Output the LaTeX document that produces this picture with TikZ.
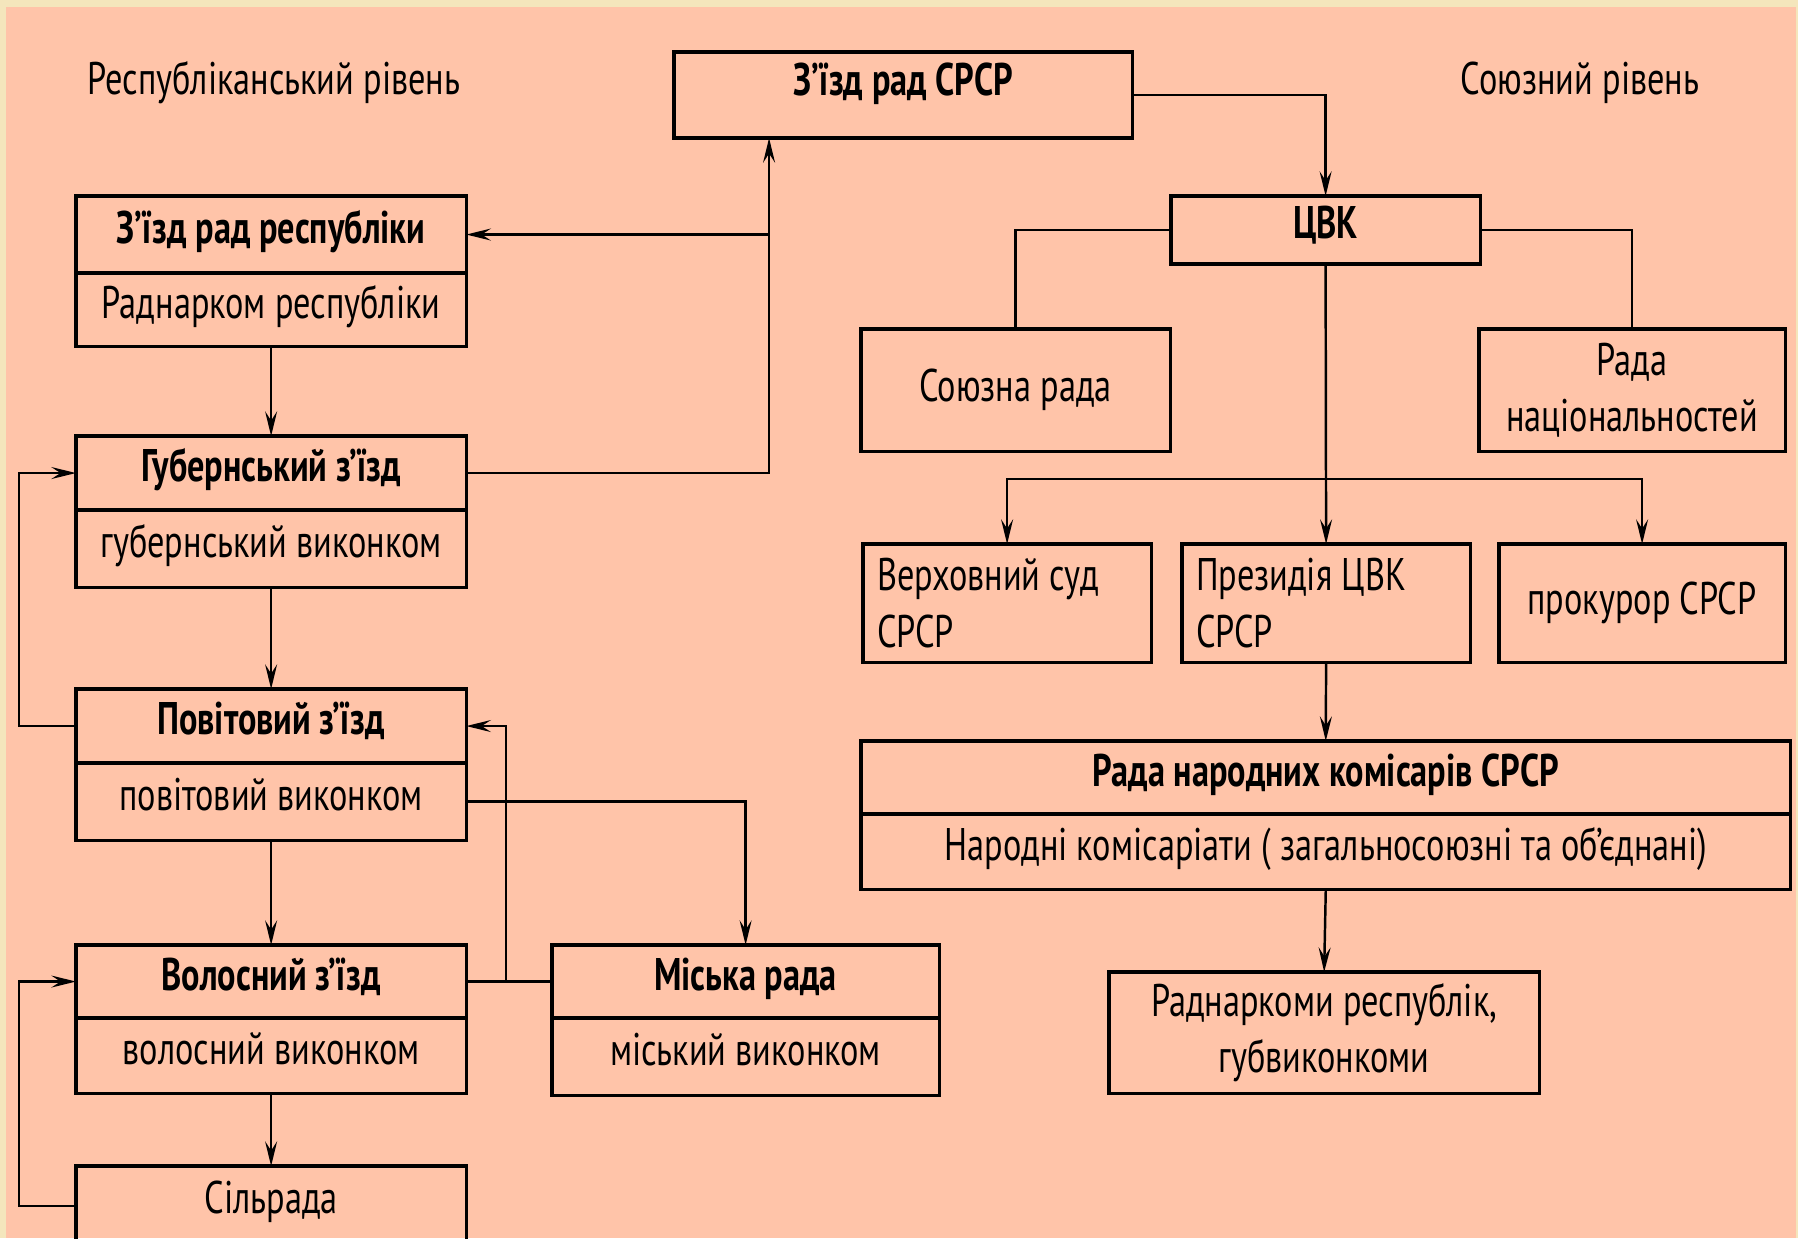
\documentclass[tikz,border=0pt]{standalone}
\usepackage{fontspec}
\setmainfont[FakeStretch=0.75]{PT Sans}
\usetikzlibrary{arrows.meta,positioning}
\definecolor{peach}{HTML}{FFC4A9}
\definecolor{cream}{HTML}{F4E6BC}

\begin{document}
\begin{tikzpicture}[x=0.01cm,y=-0.01cm,
        box/.style={draw, line width=0.9pt, inner sep=0pt, outer sep=0pt, anchor=north west,
            font=\fontsize{13}{16}\selectfont},
        subbox/.style={box, text height=0.32cm, text depth=0.15cm},
        ttl/.style={subbox, font=\fontsize{13}{16}\selectfont\bfseries},
        conn/.style={line width=0.7pt},
        arr/.style={conn, -{Stealth[length=7pt,width=3.4pt,inset=2.6pt]}}]
        \useasboundingbox (0,0) rectangle (1798,1238);
        \fill[cream] (0,0) rectangle (1798,1238);
        \fill[peach] (6,7) rectangle (1796,1238);
        \clip (0,0) rectangle (1798,1238);

        \node[font=\fontsize{13}{16}\selectfont] (lblRep) at (274,83) {Республіканський рівень};
        \node[font=\fontsize{13}{16}\selectfont] (lblSoy) at (1580,83) {Союзний рівень};

        \node[ttl, minimum width=4.58cm, minimum height=0.86cm, text height=0.32cm, text depth=0.32cm] (zrs) at (674,52) {З’їзд рад СРСР};
        \node[ttl, minimum width=3.09cm, minimum height=0.68cm] (cvk) at (1171,196) {ЦВК};

        \node[ttl, minimum width=3.90cm, minimum height=0.77cm] (zrr) at (76,196) {З’їзд рад республіки};
        \node[subbox, minimum width=3.90cm, minimum height=0.73cm, below=0pt of zrr] (zrrS) {Раднарком республіки};
        \node[ttl, minimum width=3.90cm, minimum height=0.74cm] (gub) at (76,436) {Губернський з’їзд};
        \node[subbox, minimum width=3.90cm, minimum height=0.77cm, below=0pt of gub] (gubS) {губернський виконком};
        \node[ttl, minimum width=3.90cm, minimum height=0.74cm] (pov) at (76,689) {Повітовий з’їзд};
        \node[subbox, minimum width=3.90cm, minimum height=0.77cm, below=0pt of pov] (povS) {повітовий виконком};
        \node[ttl, minimum width=3.90cm, minimum height=0.73cm] (vol) at (76,945) {Волосний з’їзд};
        \node[subbox, minimum width=3.90cm, minimum height=0.75cm, below=0pt of vol] (volS) {волосний виконком};
        \node[box, minimum width=3.90cm, minimum height=0.80cm, text height=0.32cm, text depth=0.18cm] (sil) at (76,1166) {Сільрада};
        \node[ttl, minimum width=3.87cm, minimum height=0.73cm] (msk) at (552,945) {Міська рада};
        \node[subbox, minimum width=3.87cm, minimum height=0.77cm, below=0pt of msk] (mskS) {міський виконком};

        \node[box, minimum width=3.09cm, minimum height=1.22cm] (sr) at (861,329) {Союзна рада};
        \node[box, minimum width=3.06cm, minimum height=1.22cm, align=center] (rn) at (1479,329) {Рада\\національностей};
        \node[box, minimum width=2.88cm, minimum height=1.18cm, text width=2.60cm, align=flush left] (vs) at (863,544) {Верховний суд\\СРСР};
        \node[box, minimum width=2.88cm, minimum height=1.18cm, text width=2.60cm, align=flush left] (prez) at (1182,544) {Президія ЦВК\\СРСР};
        \node[box, minimum width=2.86cm, minimum height=1.18cm] (pk) at (1499,544) {прокурор СРСР};
        \node[ttl, minimum width=9.29cm, minimum height=0.73cm] (rnk) at (861,741) {Рада народних комісарів СРСР};
        \node[subbox, minimum width=9.29cm, minimum height=0.75cm, below=0pt of rnk] (rnkS) {Народні комісаріати ( загальносоюзні та об’єднані)};
        \node[box, minimum width=4.30cm, minimum height=1.21cm, align=center] (rad) at (1109,972) {Раднаркоми республік,\\губвиконкоми};

        \coordinate (jR) at ([xshift=0.95cm]zrs.south west);
        \coordinate[right=0.40cm of vol.east] (jV);
        \coordinate[below=2.15cm of cvk.south] (jB);

        \draw[arr] (zrs.east) -| (cvk.north);
        \draw[arr] (gub.east) -| (jR);
        \draw[arr] (jR |- zrr.east) -- (zrr.east);
        \draw[arr] (zrrS.south) -- (gub.north);
        \draw[arr] (gubS.south) -- (pov.north);
        \draw[arr] (povS.south) -- (vol.north);
        \draw[arr] (volS.south) -- (sil.north);
        \draw[arr] (pov.west) -- ++(-57,0) |- (gub.west);
        \draw[arr] (sil.west) -- ++(-57,0) |- (vol.west);
        \draw[conn] (vol.east) -- (msk.west);
        \draw[arr] (jV) |- (pov.east);
        \draw[arr] (povS.east) -| (msk.north);

        \draw[conn] (cvk.west) -| (sr.north);
        \draw[conn] (cvk.east) -| (rn.north);
        \draw[arr] (cvk.south) -- (prez.north);
        \draw[arr] (jB) -| (vs.north);
        \draw[arr] (jB) -| (pk.north);
        \draw[arr] (prez.south) -- (rnk.north);
        \draw[arr] (rnkS.south) -- (rad.north);
    \end{tikzpicture}
\end{document}
